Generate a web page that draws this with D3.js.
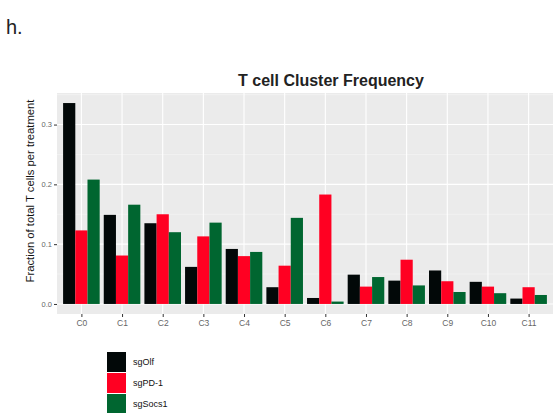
<!DOCTYPE html>
<html>
<head>
<meta charset="utf-8">
<script src="https://cdn.jsdelivr.net/npm/d3@7"></script>
<style>
  body { margin: 0; background: #fff; }
  svg { display: block; font-family: "Liberation Sans", Arial, sans-serif; }
</style>
</head>
<body>
<svg id="chart" width="555" height="413"></svg>
<script>
const clusters = ["C0", "C1", "C2", "C3", "C4", "C5", "C6", "C7", "C8", "C9", "C10", "C11"];
const treatments = ["sgOlf", "sgPD-1", "sgSocs1"];
const sgOlf = [0.336, 0.149, 0.135, 0.062, 0.092, 0.028, 0.010, 0.049, 0.039, 0.056, 0.037, 0.009];
const sgPD1 = [0.123, 0.081, 0.150, 0.113, 0.080, 0.064, 0.183, 0.029, 0.074, 0.038, 0.029, 0.028];
const sgSocs1 = [0.208, 0.166, 0.120, 0.136, 0.087, 0.144, 0.004, 0.045, 0.031, 0.020, 0.018, 0.015];
const yTicks = [0, 0.1, 0.2, 0.3];
const colors = ["#020808", "#ff0022", "#006630"];

const series = [sgOlf, sgPD1, sgSocs1];
const data = clusters.flatMap((c, i) =>
  treatments.map((t, j) => ({ cluster: c, treatment: t, value: series[j][i] })));

const svg = d3.select("#chart");
const panel = { left: 57, right: 553, top: 93, bottom: 314 };

// "h." panel label
svg.append("text")
  .attr("x", 6).attr("y", 34)
  .style("font-size", "20px")
  .style("fill", "#222")
  .text("h.");

// ggplot-style discrete expansion: 0.6 units each side
const unit = (panel.right - panel.left) / (clusters.length - 1 + 1.2);
const xc = d3.scalePoint()
  .domain(clusters)
  .range([panel.left + 0.6 * unit, panel.right - 0.6 * unit]);

const xInner = d3.scaleBand()
  .domain(treatments)
  .range([-0.45 * unit, 0.45 * unit])
  .padding(0);

const y = d3.scaleLinear()
  .domain([-0.0168, 0.3528])
  .range([panel.bottom, panel.top]);

const g = svg.append("g");

g.append("rect")
  .attr("x", panel.left).attr("y", panel.top)
  .attr("width", panel.right - panel.left)
  .attr("height", panel.bottom - panel.top)
  .attr("fill", "#ebebeb");

// minor gridlines
g.selectAll(".minor")
  .data([0.05, 0.15, 0.25, 0.35])
  .enter().append("line")
  .attr("x1", panel.left).attr("x2", panel.right)
  .attr("y1", (d) => y(d)).attr("y2", (d) => y(d))
  .attr("stroke", "#f7f7f7").attr("stroke-width", 0.6);

// major gridlines
g.selectAll(".hmajor")
  .data(yTicks)
  .enter().append("line")
  .attr("x1", panel.left).attr("x2", panel.right)
  .attr("y1", (d) => y(d)).attr("y2", (d) => y(d))
  .attr("stroke", "#fff").attr("stroke-width", 1.1);

g.selectAll(".vmajor")
  .data(clusters)
  .enter().append("line")
  .attr("x1", (d) => xc(d)).attr("x2", (d) => xc(d))
  .attr("y1", panel.top).attr("y2", panel.bottom)
  .attr("stroke", "#fff").attr("stroke-width", 1.1);

// bars
g.selectAll(".bar")
  .data(data)
  .enter().append("rect")
  .attr("x", (d) => xc(d.cluster) + xInner(d.treatment))
  .attr("width", xInner.bandwidth())
  .attr("y", (d) => y(d.value))
  .attr("height", (d) => y(0) - y(d.value))
  .attr("fill", (d) => colors[treatments.indexOf(d.treatment)]);

// y axis
const yAxis = svg.append("g")
  .attr("transform", `translate(${panel.left},0)`)
  .call(d3.axisLeft(y).tickValues(yTicks).tickFormat(d3.format(".1f")).tickSize(3).tickPadding(2));
yAxis.select(".domain").remove();
yAxis.selectAll("line").attr("stroke", "#333");
yAxis.selectAll("text").style("font-size", "7.5px").attr("fill", "#666");

// x axis
const xAxis = svg.append("g")
  .attr("transform", `translate(0,${panel.bottom})`)
  .call(d3.axisBottom(xc).tickSize(3).tickPadding(3));
xAxis.select(".domain").remove();
xAxis.selectAll("line").attr("stroke", "#333");
xAxis.selectAll("text").style("font-size", "8.5px").attr("fill", "#666");

// axis title
svg.append("text")
  .attr("transform", "translate(34,191) rotate(-90)")
  .attr("text-anchor", "middle")
  .attr("textLength", 183)
  .attr("lengthAdjust", "spacingAndGlyphs")
  .style("font-size", "10.5px")
  .attr("fill", "#111")
  .text("Fraction of total T cells per treatment");

// title
svg.append("text")
  .attr("x", 331).attr("y", 86)
  .attr("text-anchor", "middle")
  .style("font-size", "16px")
  .style("font-weight", "bold")
  .attr("fill", "#222")
  .text("T cell Cluster Frequency");

// legend
const legend = svg.append("g").attr("transform", "translate(107,352)");
const rows = legend.selectAll("g")
  .data(treatments)
  .enter().append("g")
  .attr("transform", (d, i) => `translate(0,${i * 21})`);
rows.append("rect")
  .attr("width", 19).attr("height", 20)
  .attr("fill", (d, i) => colors[i]);
rows.append("text")
  .attr("x", 26).attr("y", 13)
  .style("font-size", "9px")
  .attr("fill", "#111")
  .text((d) => d);
</script>
</body>
</html>
